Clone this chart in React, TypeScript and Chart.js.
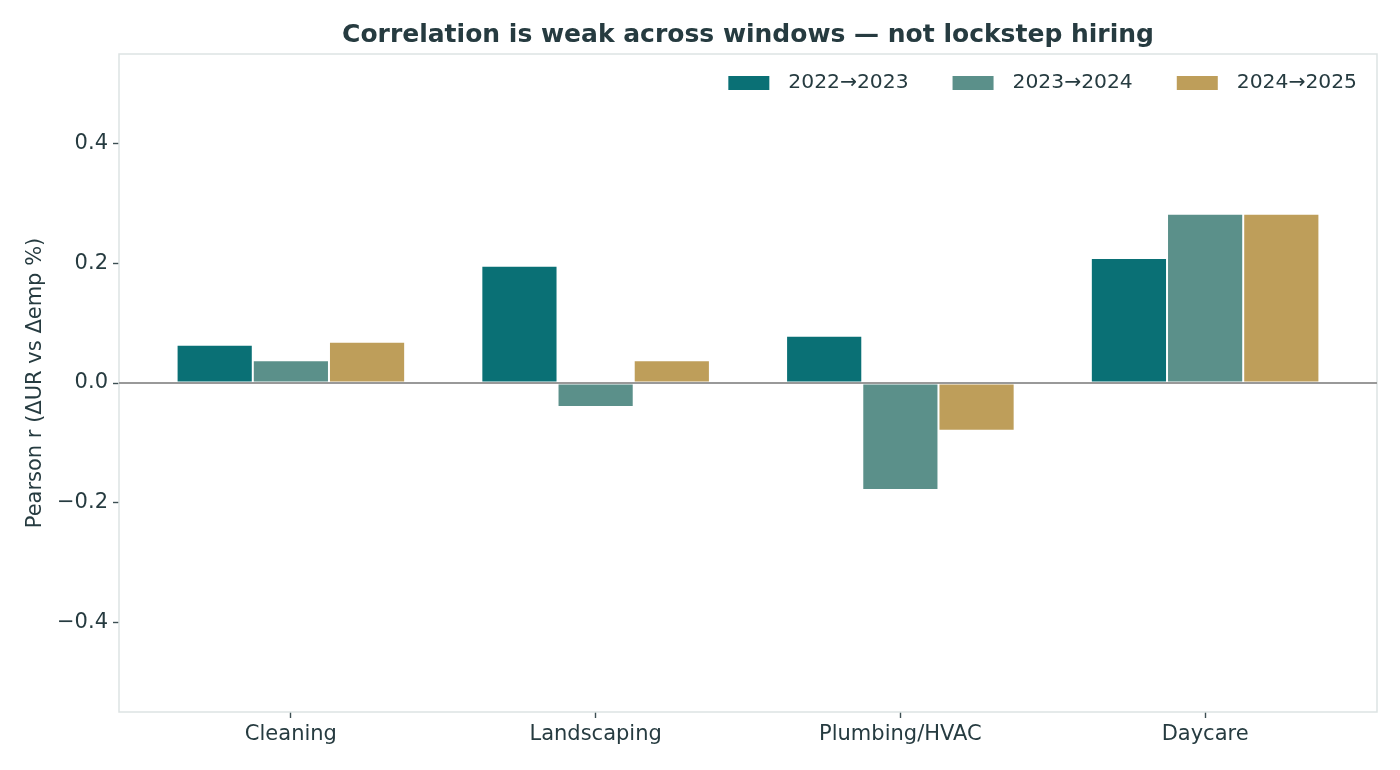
import React, { useEffect, useRef } from "react";
import { Chart, registerables } from "chart.js";
import type { Plugin } from "chart.js";

Chart.register(...registerables);

const CATEGORIES = ["Cleaning", "Landscaping", "Plumbing/HVAC", "Daycare"];
const WINDOWS = ["2022→2023", "2023→2024", "2024→2025"];
const R_2022_2023 = [0.064, 0.196, 0.079, 0.209];
const R_2023_2024 = [0.038, -0.04, -0.179, 0.283];
const R_2024_2025 = [0.069, 0.038, -0.08, 0.283];
const Y_TICKS = [-0.4, -0.2, 0.0, 0.2, 0.4];

const COLORS = ["#0a7075", "#5b908a", "#be9e5a"];
const TEXT = "#263b40";
const SPINE = "#dde3e3";
const ZERO_LINE = "#999999";
const TICK_MARK = "#3e5054";
const FONT = "'DejaVu Sans', sans-serif";

const TITLE = "Correlation is weak across windows — not lockstep hiring";
const Y_LABEL = "Pearson r (ΔUR vs Δemp %)";

const fmt = (v: number) => {
  const s = Math.abs(v).toFixed(1);
  return v < -1e-9 ? "\u2212" + s : s;
};

const decorations: Plugin<"bar"> = {
  id: "decorations",
  beforeDatasetsDraw(chart) {
    const { ctx, chartArea: a } = chart;
    ctx.save();
    ctx.strokeStyle = SPINE;
    ctx.lineWidth = 1.5;
    ctx.strokeRect(a.left, a.top, a.right - a.left, a.bottom - a.top);
    ctx.restore();
  },
  afterDatasetsDraw(chart) {
    const { ctx, chartArea: a } = chart;
    const y0 = chart.scales.y.getPixelForValue(0);
    ctx.save();
    ctx.strokeStyle = ZERO_LINE;
    ctx.lineWidth = 2;
    ctx.beginPath();
    ctx.moveTo(a.left, y0);
    ctx.lineTo(a.right, y0);
    ctx.stroke();

    // title
    ctx.fillStyle = TEXT;
    ctx.font = `bold 25px ${FONT}`;
    ctx.textAlign = "center";
    ctx.textBaseline = "alphabetic";
    ctx.fillText(TITLE, (a.left + a.right) / 2, 42);

    // y axis label
    ctx.font = `21px ${FONT}`;
    ctx.translate(36, (a.top + a.bottom) / 2);
    ctx.rotate(-Math.PI / 2);
    ctx.textBaseline = "middle";
    ctx.fillText(Y_LABEL, 0, 0);
    ctx.restore();

    // legend, laid out from the right edge of the plot
    ctx.save();
    ctx.font = `20.3px ${FONT}`;
    ctx.textBaseline = "middle";
    ctx.textAlign = "left";
    let x = a.right - 20;
    const ly = 83;
    const items = chart.data.datasets.map((d, i) => ({
      label: String(d.label),
      color: COLORS[i],
    }));
    const widths = items.map((it) => ctx.measureText(it.label).width);
    for (let i = items.length - 1; i >= 0; i--) {
      x -= widths[i];
      ctx.fillStyle = TEXT;
      ctx.fillText(items[i].label, x, ly);
      x -= 19;
      ctx.fillStyle = items[i].color;
      ctx.fillRect(x - 41, ly - 7, 41, 14);
      x -= 41 + 44;
    }
    ctx.restore();
  },
};

export default function App() {
  const canvasRef = useRef<HTMLCanvasElement | null>(null);

  useEffect(() => {
    const el = canvasRef.current;
    if (!el) return;
    const series = [R_2022_2023, R_2023_2024, R_2024_2025];
    const chart = new Chart(el, {
      type: "bar",
      data: {
        datasets: series.map((vals, i) => ({
          label: WINDOWS[i],
          data: vals.map((v, j) => ({ x: j, y: v })),
          backgroundColor: COLORS[i],
          borderColor: "#ffffff",
          borderWidth: 1,
          borderSkipped: false,
          categoryPercentage: 0.75,
          barPercentage: 1,
        })),
      },
      options: {
        animation: false,
        responsive: false,
        devicePixelRatio: 1,
        layout: { padding: { left: 0, right: 23, top: 54, bottom: 0 } },
        plugins: {
          legend: { display: false },
          title: { display: false },
          tooltip: { enabled: false },
        },
        scales: {
          x: {
            type: "linear",
            offset: false,
            min: -0.564,
            max: 3.564,
            afterBuildTicks: (s) => {
              s.ticks = CATEGORIES.map((_, i) => ({ value: i }));
            },
            afterFit: (s) => {
              s.height = 58;
            },
            border: { display: false },
            grid: {
              offset: false,
              drawOnChartArea: false,
              drawTicks: true,
              tickLength: 6,
              tickColor: TICK_MARK,
              tickWidth: 1.4,
            },
            ticks: {
              color: TEXT,
              font: { family: FONT, size: 21 },
              padding: 4,
              maxRotation: 0,
              autoSkip: false,
              callback: (v) => CATEGORIES[Number(v)] ?? "",
            },
          },
          y: {
            type: "linear",
            min: -0.55,
            max: 0.55,
            afterBuildTicks: (s) => {
              s.ticks = Y_TICKS.map((v) => ({ value: v }));
            },
            afterFit: (s) => {
              s.width = 119;
            },
            border: { display: false },
            grid: {
              drawOnChartArea: false,
              drawTicks: true,
              tickLength: 6,
              tickColor: TICK_MARK,
              tickWidth: 1.4,
            },
            ticks: {
              color: TEXT,
              font: { family: FONT, size: 21 },
              padding: 5,
              callback: (v) => fmt(Number(v)),
            },
          },
        },
      },
      plugins: [decorations],
    });
    return () => chart.destroy();
  }, []);

  return (
    <div
      style={{
        position: "absolute",
        left: 0,
        top: 0,
        width: 1400,
        height: 770,
        background: "#ffffff",
      }}
    >
      <canvas ref={canvasRef} width={1400} height={770} />
    </div>
  );
}
